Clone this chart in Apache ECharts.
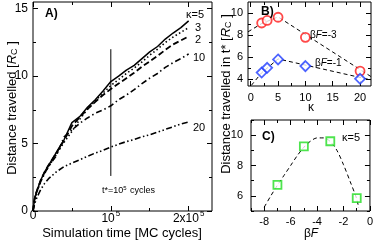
<!DOCTYPE html>
<html><head><meta charset="utf-8">
<script src="https://cdn.jsdelivr.net/npm/echarts@6/dist/echarts.min.js"></script>
<style>html,body{margin:0;padding:0;background:#fff}#c{width:376px;height:243px}</style>
</head><body><div id="c"></div>
<script>
// ---------- Panel A data ----------
const simTime = [0,2e3,5e3,10e3,15e3,20e3,25e3,30e3,40e3,50e3,60e3,70e3,80e3,90e3,100e3,110e3,120e3,130e3,140e3,150e3,160e3,170e3,180e3,190e3,200e3];
const distK5  = [0,0.9,1.5,2.3,2.9,3.4,3.85,4.35,5.3,6.55,7.0,7.7,8.25,8.9,9.6,10.0,10.45,10.8,11.3,11.8,12.2,12.75,13.2,13.6,14.1];
const distK3  = [0,0.8,1.4,2.2,2.8,3.3,3.75,4.2,5.1,5.9,6.8,7.55,8.15,8.75,9.3,9.75,10.2,10.6,11.05,11.55,12.0,12.5,12.9,13.25,13.6];
const distK2  = [0,0.9,1.5,2.3,2.9,3.4,3.85,4.3,5.25,6.3,6.95,7.55,8.1,8.6,9.05,9.45,9.85,10.25,10.7,11.1,11.5,11.95,12.35,12.65,12.95];
const distK10 = [0,0.9,1.5,2.2,2.8,3.3,3.7,4.1,5.5,6.0,6.5,6.9,7.25,7.5,7.8,8.25,8.6,9.0,9.45,9.85,10.2,10.65,11.0,11.3,11.65];
const distK20 = [0,0.5,1.0,1.6,2.05,2.4,2.65,2.9,3.3,3.55,3.8,4.05,4.3,4.5,4.75,4.95,5.15,5.3,5.5,5.65,5.85,6.05,6.25,6.45,6.6];
const tStarX = [1e5, 1e5];
const tStarY = [2.6, 12.0];
const aXTicks = [0, 1e5, 2e5];
const aXMinor = [5e4, 1.5e5];
const aXLabels = ['0', '10^5', '2x10^5'];
const aYTicks = [0, 5, 10, 15];
const aYMinor = [2.5, 7.5, 12.5];
const aYLabels = ['0', '5', '10', '15'];

// ---------- Panel B data ----------
const kappa   = [2, 3, 5, 10, 20];
const distBF3 = [9.1, 9.33, 9.62, 7.8, 4.75];
const distBF1 = [4.62, 5.05, 5.8, 5.2, 4.05];
const fitBF3K = [-0.5, 2, 5, 22];
const fitBF3D = [8.3, 9.05, 9.65, 4.25];
const fitBF1K = [0.1, 2, 5, 22];
const fitBF1D = [3.45, 4.6, 5.85, 3.95];
const bXTicks = [0, 5, 10, 15, 20];
const bXMinor = [2.5, 7.5, 12.5, 17.5];
const bYTicks = [4, 6, 8, 10];
const bYMinor = [5, 7, 9];

// ---------- Panel C data ----------
const betaF = [-7, -5, -3, -1];
const distC = [6.72, 9.26, 9.6, 5.85];
const fitCX = [-8,-7.5,-7,-6.5,-6,-5.5,-5,-4.5,-4,-3.5,-3,-2.5,-2,-1.5,-1,-0.85];
const fitCY = [5.25,6.0,6.7,7.35,8.0,8.65,9.2,9.6,9.82,9.82,9.58,9.0,8.05,6.95,5.8,5.2];
const cXTicks = [-8, -6, -4, -2, 0];
const cXMinor = [-9, -7, -5, -3, -1];
const cYTicks = [6, 8, 10];
const cYMinor = [5, 7, 9, 11];

const FONT = 'Liberation Sans, Arial, Helvetica, sans-serif';
const xAxes = [], yAxes = [];
const supRich = {
  b: {fontSize: 12, lineHeight: 14, fontFamily: FONT, color: '#000'},
  s: {fontSize: 8, lineHeight: 8, padding: [0, 0, 11, 1], fontFamily: FONT, color: '#000'},
  z: {fontSize: 12, lineHeight: 12, padding: [0, 0, 5, 0], fontFamily: FONT, color: '#000'}
};
function supFmt(txt) {
  if (txt.indexOf('^') < 0) return '{z|' + txt + '}';
  const p = txt.split('^');
  return '{b|' + p[0] + '}{s|' + p[1] + '}';
}
function addAxes(list, dim, grid, min, max, major, minor, labelVals, labelTxt, fs, margin, useRich) {
  const isX = dim === 'x';
  const pos = isX ? ['bottom', 'top'] : ['left', 'right'];
  const start = list.length;
  const base = () => ({type: 'value', gridIndex: grid, min: min, max: max,
    splitLine: {show: false}, axisLine: {show: false, onZero: false}});
  const tick = (vals, len) => ({show: true, inside: true, length: len, customValues: vals,
    lineStyle: {color: '#000', width: 1}});
  const main = base();
  main.position = pos[0];
  main.axisTick = tick(major, 5);
  main.axisLabel = {show: true, customValues: labelVals, color: '#000', fontSize: fs,
    fontFamily: FONT, margin: margin, rich: useRich ? supRich : undefined,
    formatter: function (v) {
      const i = labelVals.findIndex(x => Math.abs(x - v) < 1e-9 * Math.max(1, Math.abs(x)));
      if (i < 0) return '';
      return useRich ? supFmt(labelTxt[i]) : labelTxt[i];
    }};
  list.push(main);
  const mir = base(); mir.position = pos[1]; mir.axisTick = tick(major, 5); mir.axisLabel = {show: false};
  list.push(mir);
  const mn = base(); mn.position = pos[0]; mn.axisTick = tick(minor, 3); mn.axisLabel = {show: false};
  list.push(mn);
  const mm = base(); mm.position = pos[1]; mm.axisTick = tick(minor, 3); mm.axisLabel = {show: false};
  list.push(mm);
  return start;
}
const axA_x = addAxes(xAxes, 'x', 0, 0, 2.3e5, aXTicks, aXMinor, aXTicks, aXLabels, 12, 1, true);
const axA_y = addAxes(yAxes, 'y', 0, 0, 15.5, aYTicks, aYMinor, aYTicks, aYLabels, 12, 5, false);
const axB_x = addAxes(xAxes, 'x', 1, -0.5, 22, bXTicks, bXMinor, bXTicks, bXTicks.map(String), 11, 6, false);
const axB_y = addAxes(yAxes, 'y', 1, 3.4, 11, bYTicks, bYMinor, bYTicks, bYTicks.map(String), 11, 5, false);
const axC_x = addAxes(xAxes, 'x', 2, -9, 0, cXTicks, cXMinor, cXTicks, cXTicks.map(String), 11, 5, false);
const axC_y = addAxes(yAxes, 'y', 2, 5, 11, cYTicks, cYMinor, cYTicks, cYTicks.map(String), 11, 8, false);

const zip = (a, b) => a.map((v, i) => [v, b[i]]);
function curve(ys, dash, w) {
  return {type: 'line', xAxisIndex: axA_x, yAxisIndex: axA_y, data: zip(simTime, ys),
    showSymbol: false, symbol: 'none', silent: true,
    lineStyle: {color: '#000', width: w, type: dash}};
}
const series = [
  curve(distK20, [6, 2.5, 1.5, 2.5, 1.5, 2.5], 1.6),
  curve(distK10, [6, 3, 1.5, 3], 1.6),
  curve(distK2, [6, 3], 1.8),
  curve(distK3, [1.5, 2.5], 1.6),
  curve(distK5, 'solid', 1.5),
  {type: 'line', xAxisIndex: axA_x, yAxisIndex: axA_y, data: zip(tStarX, tStarY), symbol: 'none',
    lineStyle: {color: '#000', width: 1}},
  {type: 'line', xAxisIndex: axB_x, yAxisIndex: axB_y, data: zip(fitBF3K, fitBF3D), symbol: 'none',
    lineStyle: {color: '#000', width: 1, type: [4, 3]}},
  {type: 'line', xAxisIndex: axB_x, yAxisIndex: axB_y, data: zip(fitBF1K, fitBF1D), symbol: 'none',
    lineStyle: {color: '#000', width: 1, type: [4, 3]}},
  {type: 'scatter', xAxisIndex: axB_x, yAxisIndex: axB_y, data: zip(kappa, distBF3), symbol: 'circle',
    symbolSize: 9, z: 5, itemStyle: {color: '#fff', borderColor: '#ff1a1a', borderWidth: 1.8}},
  {type: 'scatter', xAxisIndex: axB_x, yAxisIndex: axB_y, data: zip(kappa, distBF1), symbol: 'diamond',
    symbolSize: 10, z: 5, itemStyle: {color: '#fff', borderColor: '#1f3cff', borderWidth: 1.8}},
  {type: 'line', xAxisIndex: axC_x, yAxisIndex: axC_y, data: zip(fitCX, fitCY), symbol: 'none', smooth: 0.3,
    lineStyle: {color: '#000', width: 1, type: [4, 3]}},
  {type: 'scatter', xAxisIndex: axC_x, yAxisIndex: axC_y, data: zip(betaF, distC), symbol: 'rect',
    symbolSize: 8, z: 5, itemStyle: {color: '#fff', borderColor: '#22dd22', borderWidth: 1.8}}
];

function txt(x, y, text, size, opts) {
  const st = Object.assign({text: text, fill: '#000', fontSize: size, fontFamily: FONT,
    align: 'left', verticalAlign: 'middle'}, (opts && opts.style) || {});
  const el = {type: 'text', x: x, y: y, style: st, silent: true, z: 10};
  if (opts && opts.rotation) el.rotation = opts.rotation;
  return el;
}
const richBase = {
  i: {fontStyle: 'italic', fontFamily: FONT, fontSize: 13, lineHeight: 16},
  sub: {fontFamily: FONT, fontSize: 9, lineHeight: 9, padding: [5, 0, 0, 0]},
  n: {fontFamily: FONT, fontSize: 13, lineHeight: 16}
};
const graphic = [
  txt(45, 14, 'A)', 12, {style: {fontWeight: 'bold'}}),
  txt(186, 15, 'κ=5', 11),
  txt(195, 28, '3', 11),
  txt(195, 40, '2', 11),
  txt(193, 58, '10', 11),
  txt(193, 128, '20', 11),
  txt(102, 191, '{n|t*=10}{s|5}{n| cycles}', 9, {style: {rich: {
    n: {fontFamily: FONT, fontSize: 9, lineHeight: 11},
    s: {fontFamily: FONT, fontSize: 6, lineHeight: 6, padding: [0, 1, 6, 0]}}}}),
  txt(122, 233, 'Simulation time [MC cycles]', 13, {style: {align: 'center'}}),
  txt(12, 108, '{n|Distance travelled [}{i|R}{sub|C}{n| ]}', 13,
    {rotation: Math.PI / 2, style: {align: 'center', rich: richBase}}),
  txt(261, 12, 'B)', 12, {style: {fontWeight: 'bold'}}),
  txt(310, 35, '{n|β}{i|F}{n|=-3}', 10, {style: {rich: {
    n: {fontFamily: FONT, fontSize: 10}, i: {fontFamily: FONT, fontSize: 10, fontStyle: 'italic'}}}}),
  txt(315, 63, '{n|β}{i|F}{n|=-1}', 10, {style: {rich: {
    n: {fontFamily: FONT, fontSize: 10}, i: {fontFamily: FONT, fontSize: 10, fontStyle: 'italic'}}}}),
  txt(311, 108, 'κ', 12, {style: {align: 'center'}}),
  txt(262, 137, 'C)', 12, {style: {fontWeight: 'bold'}}),
  txt(342, 138, 'κ=5', 11),
  txt(311, 234, '{n|β}{i|F}', 12, {style: {align: 'center', rich: {
    n: {fontFamily: FONT, fontSize: 12}, i: {fontFamily: FONT, fontSize: 12, fontStyle: 'italic'}}}}),
  txt(226, 94, '{n|Distance travelled in t* [}{i|R}{sub|C}{n| ]}', 13,
    {rotation: Math.PI / 2, style: {align: 'center', rich: richBase}})
];

const gridStyle = {show: true, borderColor: '#000', borderWidth: 1, backgroundColor: 'transparent', containLabel: false};
const chart = echarts.init(document.getElementById('c'), null, {renderer: 'canvas'});
chart.setOption({
  animation: false,
  backgroundColor: '#fff',
  grid: [
    Object.assign({left: 33, top: 2, width: 179, height: 209}, gridStyle),
    Object.assign({left: 248, top: 2, width: 123, height: 84}, gridStyle),
    Object.assign({left: 251, top: 120, width: 120, height: 91}, gridStyle)
  ],
  xAxis: xAxes,
  yAxis: yAxes,
  series: series,
  graphic: graphic
});
</script></body></html>
